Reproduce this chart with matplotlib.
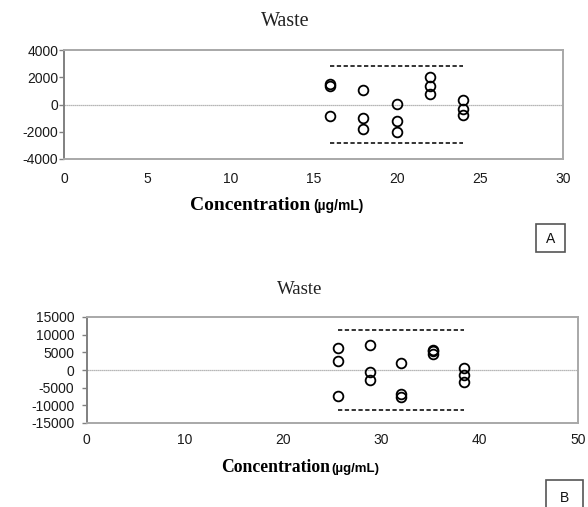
import matplotlib
matplotlib.use("Agg")
import matplotlib.pyplot as plt
from matplotlib.patches import Rectangle

plt.rcParams["axes.unicode_minus"] = False

# ---- data ----
conc_a = [16, 16, 16, 18, 18, 18, 20, 20, 20, 22, 22, 22, 24, 24, 24]
resid_a = [1500, 1350, -850, 1050, -1000, -1800, 50, -1200, -2050,
           2000, 1350, 750, 300, -300, -800]
limit_a = 2850
limit_x_a = [16, 24]
yticks_a = [-4000, -2000, 0, 2000, 4000]
xticks_a = [0, 5, 10, 15, 20, 25, 30]

conc_b = [25.6, 25.6, 25.6, 28.8, 28.8, 28.8, 32, 32, 32,
          35.2, 35.2, 35.2, 38.4, 38.4, 38.4]
resid_b = [6100, 2500, -7400, 7100, -700, -2700, 1900, -6800, -7700,
           5800, 5500, 4500, 700, -1400, -3300]
limit_b = 11200
limit_x_b = [25.6, 38.4]
yticks_b = [-15000, -10000, -5000, 0, 5000, 10000, 15000]
xticks_b = [0, 10, 20, 30, 40, 50]

title_text = "Waste"
xlabel_main = "Concentration"
xlabel_unit = "(µg/mL)"

W, H = 588, 507
fig = plt.figure(figsize=(W / 100, H / 100), dpi=100)


def px_axes(x0, y0, x1, y1):
    return fig.add_axes([x0 / W, 1 - y1 / H, (x1 - x0) / W, (y1 - y0) / H])


def style(ax, ylim, xlim, yticks, xticks, ypad, xpad, fs):
    ax.set_xlim(*xlim)
    ax.set_ylim(*ylim)
    ax.set_yticks(yticks)
    ax.set_xticks(xticks)
    for s in ["top", "right", "bottom"]:
        ax.spines[s].set_color("#a8a8a8")
        ax.spines[s].set_linewidth(1.4)
    ax.spines["left"].set_color("#808080")
    ax.spines["left"].set_linewidth(1.4)
    ax.tick_params(axis="y", direction="out", length=3.5, width=1.0,
                   color="#808080", pad=ypad, labelsize=fs, labelcolor="#1a1a1a")
    ax.tick_params(axis="x", length=0, pad=xpad, labelsize=fs, labelcolor="#1a1a1a")
    for lab in ax.get_xticklabels() + ax.get_yticklabels():
        lab.set_family("Liberation Sans")
    ax.axhline(0, color="#a0a0a0", lw=0.9, ls=(0, (1, 0.6)), zorder=1)


def draw(ax, xs, ys, lim, limx):
    ax.plot(limx, [lim, lim], color="#333333", lw=1.4, ls=(0, (2.2, 1.3)))
    ax.plot(limx, [-lim, -lim], color="#333333", lw=1.4, ls=(0, (2.2, 1.3)))
    ax.plot(xs, ys, ls="none", marker="o", ms=7, mfc="none", mec="black",
            mew=1.3, zorder=3)


# Panel A
axA = px_axes(64.3, 50, 562.7, 159)
style(axA, (-4000, 4000), (0, 30), yticks_a, xticks_a, 0.8, 9.5, 10)
draw(axA, conc_a, resid_a, limit_a, limit_x_a)

# Panel B
axB = px_axes(86.7, 317, 578, 423)
style(axB, (-15000, 15000), (0, 50), yticks_b, xticks_b, 5.5, 7.5, 10)
draw(axB, conc_b, resid_b, limit_b, limit_x_b)

# titles
fig.text(285 / W, 1 - 22 / H, title_text, family="Liberation Serif",
         fontsize=14.5, ha="center", va="center", color="#222222")
fig.text(300 / W, 1 - 289 / H, title_text, family="Liberation Serif",
         fontsize=13.5, ha="center", va="center", color="#222222")

# x labels
fig.text(310 / W, 1 - 210 / H, xlabel_main, family="Liberation Serif",
         fontweight="bold", fontsize=14, ha="right", va="baseline")
fig.text(313 / W, 1 - 210 / H, xlabel_unit, family="Liberation Sans",
         fontweight="bold", fontsize=10, ha="left", va="baseline")
fig.text(330 / W, 1 - 472 / H, xlabel_main, family="Liberation Serif",
         fontweight="bold", fontsize=12.7, ha="right", va="baseline")
fig.text(331 / W, 1 - 472 / H, xlabel_unit, family="Liberation Sans",
         fontweight="bold", fontsize=9.5, ha="left", va="baseline")

# panel letter boxes
for (x0, y0, x1, y1, ty, letter) in [(536, 224, 565, 252, 239, "A"),
                                      (546, 480, 583, 512, 498, "B")]:
    fig.patches.append(Rectangle((x0 / W, 1 - y1 / H), (x1 - x0) / W,
                                 (y1 - y0) / H, transform=fig.transFigure,
                                 fill=False, ec="#555555", lw=1.2))
    fig.text((x0 + x1) / 2 / W, 1 - ty / H, letter, family="Liberation Sans",
             fontsize=10, ha="center", va="center", color="#111111")

fig.savefig("out.png", dpi=100)
